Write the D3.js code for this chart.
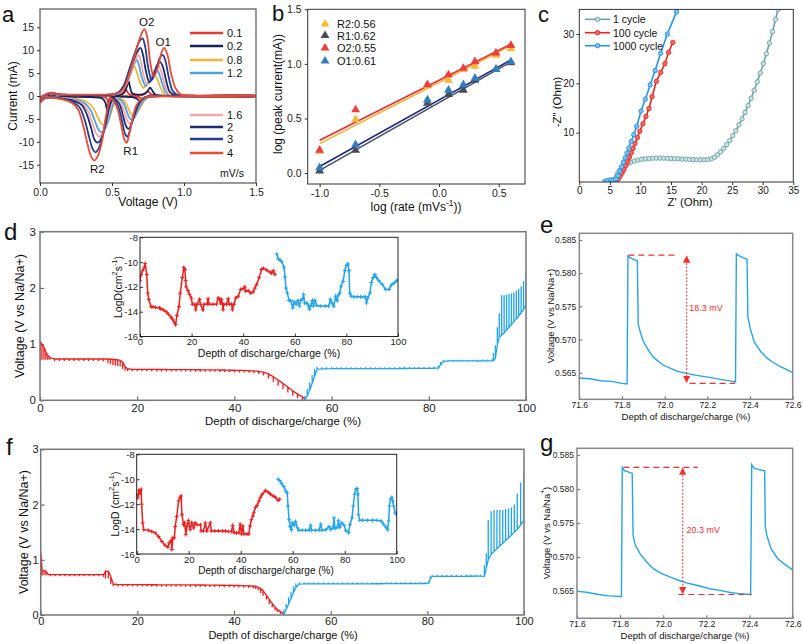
<!DOCTYPE html>
<html><head><meta charset="utf-8">
<script src="https://cdn.jsdelivr.net/npm/d3@7"></script>
<style>
body{margin:0;background:#fff;}
</style></head>
<body><svg id="chart" width="803" height="644" xmlns="http://www.w3.org/2000/svg"></svg>
<script>
// ================= DATA =================
// ---- (a) CV curves ----
const cvRates = ["0.1","0.2","0.8","1.2","1.6","2","3","4"];
const cvColors = ["#e8382d","#16215f","#f4b43e","#4aa3db","#f4a7a9","#1c2c76","#233f92","#ee4a33"];
const cvUpper = [
 [[0,-0.3],[0.03,0.03],[0.08,0.3],[0.12,0.15],[0.2,0.08],[0.4,0.08],[0.56,0.15],[0.58,0.6],[0.595,1.6],[0.608,0.8],[0.63,0.25],[0.7,0.15],[0.73,0.5],[0.75,1.1],[0.765,0.5],[0.8,0.1],[1.5,0.02]],
 [[0,-0.4],[0.03,0.05],[0.08,0.4],[0.12,0.2],[0.2,0.1],[0.4,0.1],[0.55,0.2],[0.585,0.8],[0.605,2.2],[0.615,3.3],[0.625,2.0],[0.64,0.6],[0.68,0.3],[0.72,0.4],[0.745,1.0],[0.765,1.8],[0.78,1.2],[0.8,0.3],[0.85,0.08],[1.5,0.02]],
 [[0,-0.6],[0.03,0.1],[0.08,0.5],[0.12,0.3],[0.2,0.18],[0.35,0.18],[0.5,0.22],[0.56,0.7],[0.6,2.5],[0.625,4.4],[0.642,5.9],[0.655,6.5],[0.67,5.4],[0.695,3.0],[0.72,1.8],[0.745,2.7],[0.775,4.3],[0.795,4.7],[0.812,3.9],[0.835,2.0],[0.86,0.5],[0.885,0.12],[1.05,0.03],[1.5,0.02]],
 [[0,-0.7],[0.03,0.1],[0.08,0.55],[0.12,0.3],[0.2,0.2],[0.35,0.2],[0.5,0.25],[0.56,0.8],[0.6,2.8],[0.63,5.0],[0.655,7.1],[0.672,7.9],[0.688,6.6],[0.71,3.8],[0.735,2.2],[0.76,3.2],[0.79,5.2],[0.81,5.75],[0.828,4.8],[0.85,2.6],[0.875,0.7],[0.9,0.15],[1.05,0.04],[1.5,0.02]],
 [[0,-0.7],[0.03,0.12],[0.08,0.6],[0.12,0.35],[0.2,0.22],[0.35,0.22],[0.5,0.28],[0.56,0.9],[0.6,3.0],[0.635,5.8],[0.665,8.1],[0.685,8.9],[0.7,7.5],[0.72,4.5],[0.745,2.5],[0.77,3.6],[0.8,5.9],[0.822,6.5],[0.84,5.5],[0.86,3.1],[0.885,0.9],[0.91,0.2],[1.05,0.05],[1.5,0.03]],
 [[0,-0.8],[0.03,0.15],[0.08,0.65],[0.12,0.4],[0.2,0.25],[0.35,0.25],[0.5,0.3],[0.55,0.8],[0.59,2.6],[0.63,6.0],[0.67,9.3],[0.698,10.5],[0.715,9.0],[0.735,5.5],[0.76,3.0],[0.785,4.3],[0.815,6.8],[0.835,7.4],[0.855,6.2],[0.875,3.5],[0.9,1.0],[0.93,0.25],[1.05,0.05],[1.5,0.03]],
 [[0,-0.8],[0.03,0.15],[0.08,0.7],[0.12,0.4],[0.2,0.25],[0.35,0.25],[0.48,0.3],[0.54,0.7],[0.58,2.2],[0.62,5.8],[0.66,9.5],[0.69,11.9],[0.712,12.6],[0.73,10.8],[0.75,6.5],[0.775,3.5],[0.8,5.0],[0.83,8.2],[0.852,9.0],[0.87,7.8],[0.895,4.0],[0.92,1.2],[0.95,0.3],[1.05,0.05],[1.5,0.03]],
 [[0,-0.9],[0.03,0.2],[0.08,0.75],[0.12,0.45],[0.2,0.3],[0.35,0.3],[0.48,0.35],[0.54,0.6],[0.58,1.6],[0.62,4.8],[0.66,9.0],[0.7,13.2],[0.725,14.6],[0.745,12.8],[0.765,7.5],[0.79,4.3],[0.82,6.5],[0.845,9.6],[0.863,10.5],[0.885,9.0],[0.91,5.0],[0.94,1.8],[0.97,0.5],[1.05,0.1],[1.5,0.05]]
];
const cvLower = [
 [[1.5,-0.02],[1.0,-0.03],[0.75,-0.05],[0.725,-0.4],[0.71,-1.05],[0.695,-0.4],[0.65,-0.15],[0.5,-0.15],[0.485,-0.5],[0.475,-1.5],[0.465,-0.6],[0.44,-0.2],[0.2,-0.15],[0.07,-0.1],[0.03,-0.2],[0.0,-0.5]],
 [[1.5,-0.02],[1.0,-0.04],[0.78,-0.05],[0.74,-0.2],[0.715,-0.8],[0.7,-1.6],[0.685,-0.9],[0.65,-0.3],[0.55,-0.2],[0.5,-0.4],[0.48,-1.2],[0.465,-3.0],[0.455,-1.5],[0.43,-0.5],[0.35,-0.25],[0.2,-0.2],[0.07,-0.15],[0.03,-0.3],[0.0,-0.7]],
 [[1.5,-0.02],[1.0,-0.05],[0.78,-0.07],[0.755,-0.25],[0.725,-1.0],[0.695,-2.6],[0.668,-4.0],[0.65,-4.4],[0.632,-4.0],[0.612,-2.6],[0.59,-1.2],[0.565,-0.6],[0.545,-0.4],[0.525,-1.0],[0.505,-2.5],[0.482,-4.7],[0.458,-6.0],[0.44,-6.3],[0.42,-5.8],[0.395,-4.2],[0.365,-2.4],[0.325,-1.3],[0.26,-0.7],[0.15,-0.4],[0.07,-0.22],[0.03,-0.35],[0.0,-0.9]],
 [[1.5,-0.02],[1.0,-0.06],[0.77,-0.08],[0.745,-0.3],[0.715,-1.2],[0.68,-3.1],[0.655,-4.8],[0.638,-5.2],[0.62,-4.7],[0.6,-3.1],[0.578,-1.4],[0.555,-0.7],[0.535,-0.45],[0.515,-1.2],[0.495,-3.0],[0.47,-5.8],[0.443,-7.5],[0.425,-7.9],[0.405,-7.3],[0.38,-5.3],[0.35,-3.0],[0.31,-1.6],[0.25,-0.8],[0.15,-0.45],[0.07,-0.25],[0.03,-0.4],[0.0,-1.0]],
 [[1.5,-0.03],[1.0,-0.07],[0.76,-0.1],[0.73,-0.35],[0.7,-1.4],[0.665,-3.6],[0.64,-5.5],[0.625,-6.0],[0.608,-5.5],[0.588,-3.7],[0.565,-1.7],[0.54,-0.8],[0.52,-0.5],[0.5,-1.4],[0.48,-3.5],[0.455,-6.6],[0.428,-8.5],[0.41,-8.9],[0.39,-8.2],[0.365,-6.0],[0.335,-3.4],[0.3,-1.8],[0.24,-0.9],[0.15,-0.5],[0.07,-0.28],[0.03,-0.45],[0.0,-1.1]],
 [[1.5,-0.03],[1.0,-0.08],[0.76,-0.1],[0.725,-0.4],[0.69,-1.6],[0.655,-4.2],[0.63,-6.5],[0.615,-7.2],[0.598,-6.6],[0.578,-4.5],[0.555,-2.0],[0.53,-0.9],[0.51,-0.55],[0.49,-1.6],[0.47,-4.0],[0.445,-7.6],[0.418,-9.7],[0.398,-10.2],[0.378,-9.5],[0.355,-7.0],[0.325,-4.0],[0.29,-2.0],[0.23,-1.0],[0.15,-0.55],[0.07,-0.3],[0.03,-0.5],[0.0,-1.2]],
 [[1.5,-0.03],[1.0,-0.08],[0.76,-0.1],[0.72,-0.4],[0.68,-1.8],[0.645,-5.0],[0.62,-8.0],[0.607,-8.9],[0.59,-8.2],[0.57,-5.5],[0.545,-2.5],[0.52,-1.0],[0.5,-0.6],[0.48,-1.8],[0.46,-4.5],[0.435,-8.8],[0.405,-11.6],[0.385,-12.3],[0.365,-11.5],[0.34,-8.8],[0.31,-5.2],[0.275,-2.5],[0.22,-1.2],[0.15,-0.6],[0.07,-0.3],[0.03,-0.55],[0.0,-1.3]],
 [[1.5,-0.05],[1.0,-0.1],[0.75,-0.15],[0.71,-0.5],[0.67,-2.0],[0.635,-6.0],[0.615,-9.0],[0.602,-10.2],[0.585,-9.4],[0.565,-6.5],[0.54,-3.0],[0.515,-1.2],[0.495,-0.6],[0.475,-1.9],[0.455,-5.0],[0.43,-10.0],[0.4,-13.2],[0.377,-14.1],[0.355,-13.2],[0.33,-10.5],[0.3,-6.5],[0.265,-3.0],[0.22,-1.5],[0.15,-0.7],[0.07,-0.35],[0.03,-0.6],[0.0,-1.4]]
];
const cvPeakNames = ["O2","O1","R1","R2"];
const cvPeakAt = [[0.741,16.1],[0.856,11.9],[0.63,-12.0],[0.398,-15.9]];
const aXTicks = [0,0.5,1.0,1.5];
const aYTicks = [-15,-10,-5,0,5,10,15];

// ---- (b) log(peak current) vs log(rate) ----
const bLogRate = [-1.0,-0.699,-0.097,0.079,0.204,0.301,0.477,0.602];
const bNames = ["R2","R1","O2","O1"];
const bSlopes = [0.56,0.62,0.55,0.61];
const bIntercepts = [0.83,0.645,0.85,0.67];
const bR2 = [0.20,0.49,0.80,0.85,0.95,0.98,1.08,1.14];
const bR1 = [0.02,0.21,0.64,0.72,0.76,0.85,0.95,1.01];
const bO2 = [0.21,0.58,0.81,0.90,0.96,1.02,1.10,1.17];
const bO1 = [0.05,0.26,0.67,0.76,0.81,0.87,0.95,1.02];
const bPtColors = ["#f7b733","#4b4b58","#f23c3c","#2f7fc1"];
const bLineColors = ["#f5b030","#4a5068","#f0282a","#1a2a80"];
const bXTicks = [-1.0,-0.5,0.0,0.5];
const bYTicks = [0.0,0.5,1.0,1.5];

// ---- (c) Nyquist ----
const cNames = ["1 cycle","100 cycle","1000 cycle"];
const cColors = ["#6aa3a9","#e8251f","#2196e8"];
const cFills = ["#cfe2e4","#f36a66","#7cc0f2"];
const c1 = [[4.3,0.1],[4.6,0.25],[5,0.35],[5.5,0.45],[5.9,0.5],[6.1,1.2],[6.3,1.8],[6.6,2.4],[7,2.9],[7.4,3.3],[7.9,3.7],[8.4,4.0],[9,4.25],[9.6,4.45],[10.2,4.6],[10.8,4.7],[11.4,4.78],[12,4.82],[12.6,4.85],[13.2,4.85],[13.8,4.83],[14.4,4.8],[15,4.77],[15.6,4.73],[16.2,4.7],[16.8,4.66],[17.4,4.62],[18,4.58],[18.6,4.55],[19.2,4.53],[19.8,4.52],[20.4,4.52],[21,4.55],[21.6,4.7],[22.1,5.0],[22.6,5.5],[23.1,6.1],[23.6,6.8],[24.1,7.6],[24.6,8.4],[25.1,9.4],[25.6,10.4],[26.1,11.6],[26.6,12.8],[27.1,14.1],[27.6,15.5],[28.1,17.0],[28.6,18.6],[29.1,20.3],[29.6,22.1],[30.1,24.0],[30.6,26.0],[31.1,28.2],[31.6,30.5],[32.1,33.0],[32.5,35]];
const c100 = [[5.8,0.2],[6.1,0.35],[6.4,0.7],[6.7,1.2],[7.0,1.8],[7.3,2.5],[7.6,3.3],[7.9,4.1],[8.2,5.0],[8.5,5.9],[8.8,6.8],[9.1,7.8],[9.5,9.0],[9.9,10.3],[10.4,11.8],[10.9,13.3],[11.4,14.9],[11.9,17.3],[12.6,20.4],[13.3,22.2],[14.0,24.0],[14.6,26.3],[15.3,28.3]];
const c1000 = [[4.2,0.1],[4.6,0.3],[5.1,0.4],[5.6,0.45],[6.0,0.6],[6.3,1.3],[6.6,2.2],[6.9,3.1],[7.2,4.0],[7.5,4.9],[7.8,5.9],[8.1,6.9],[8.5,8.2],[8.9,9.6],[9.4,11.3],[10.1,14.4],[10.8,16.8],[11.6,19.7],[12.4,22.6],[13.3,26.1],[14.4,30.0],[15.9,34.5]];
const cXTicks = [0,5,10,15,20,25,30,35];
const cYTicks = [10,20,30];

// ---- (d) GITT: [depth %, rest voltage, pulse voltage] ----
const dDischarge = [[0,1.05,0.70],[0.4,1.00,0.72],[0.8,0.95,0.72],[1.2,0.86,0.72],[1.6,0.80,0.72],[2,0.76,0.72],
 [3,0.735,0.70],[4,0.735,0.70],[5,0.735,0.70],[6,0.735,0.70],[7,0.735,0.70],[8,0.735,0.70],[9,0.735,0.70],[10,0.735,0.70],[11,0.735,0.70],[12,0.735,0.70],[13,0.735,0.69],
 [14,0.735,0.66],[14.5,0.73,0.64],[15,0.73,0.63],[15.5,0.725,0.62],[16,0.72,0.61],[16.5,0.71,0.60],[17,0.68,0.56],[17.5,0.60,0.53],[18,0.56,0.52],
 [19,0.55,0.515],[20,0.55,0.515],[21,0.55,0.515],[22,0.55,0.515],[23,0.549,0.514],[24,0.549,0.514],[25,0.548,0.513],[26,0.548,0.513],[27,0.547,0.512],[28,0.547,0.512],[29,0.546,0.511],[30,0.546,0.511],[31,0.545,0.51],[32,0.545,0.51],[33,0.544,0.509],[34,0.543,0.508],[35,0.542,0.507],[36,0.541,0.506],[37,0.54,0.505],[38,0.539,0.503],[39,0.537,0.501],[40,0.535,0.499],[41,0.533,0.496],[42,0.531,0.493],[43,0.528,0.488],[44,0.524,0.482],
 [45,0.515,0.47],[46,0.50,0.44],[47,0.47,0.39],[48,0.42,0.33],[49,0.36,0.26],[50,0.30,0.20],[51,0.235,0.14],[52,0.17,0.085],[53,0.11,0.035],[54,0.06,0.0],[54.5,0.03,0.0]];
const dCharge = [[54.5,0.0,0.08],[55,0.08,0.20],[55.5,0.18,0.32],[56,0.30,0.45],[56.5,0.42,0.56],[57,0.55,0.595],
 [58,0.56,0.59],[59,0.56,0.59],[60,0.562,0.59],[61,0.562,0.59],[62,0.562,0.59],[63,0.562,0.59],[64,0.563,0.59],[65,0.563,0.59],[66,0.563,0.59],[67,0.564,0.59],[68,0.564,0.59],[69,0.564,0.59],[70,0.564,0.59],[71,0.565,0.59],[72,0.565,0.59],[73,0.565,0.59],[74,0.566,0.592],[75,0.566,0.592],[76,0.567,0.592],[77,0.567,0.592],[78,0.568,0.593],[79,0.568,0.593],[80,0.569,0.594],[81,0.57,0.595],
 [82,0.575,0.62],[82.4,0.63,0.68],[83,0.69,0.715],[84,0.70,0.72],[85,0.70,0.72],[86,0.70,0.72],[87,0.70,0.72],[88,0.70,0.72],[89,0.70,0.722],[90,0.70,0.722],[91,0.702,0.724],[92,0.703,0.725],[93,0.705,0.73],
 [93.3,0.71,0.84],[93.7,0.75,0.98],[94.1,0.98,1.30],[94.5,1.12,1.55],[95,1.16,1.87],[95.5,1.20,1.87],[96,1.25,1.88],[96.5,1.30,1.89],[97,1.35,1.90],[97.5,1.40,1.92],[98,1.45,1.95],[98.5,1.50,1.98],[99,1.56,2.03],[99.5,1.62,2.12],[100,1.70,2.26]];
const dInsetRed = [[0,-11.5],[0.4,-11.0],[1.0,-10.7],[1.7,-10.4],[2.0,-10.1],[2.6,-11.0],[3.0,-12.5],[3.4,-13.0],[4.3,-13.6],[5,-13.62],[6,-13.65],[7.5,-13.7],[8,-13.75],[9,-13.85],[10.1,-14.0],[11,-14.2],[12.1,-14.45],[12.6,-14.6],[13.4,-14.9],[13.8,-15.05],[14.3,-14.3],[15.1,-13.6],[15.6,-12.5],[16.4,-11.25],[17.0,-10.45],[17.4,-10.6],[17.7,-11.5],[17.9,-12.0],[18.6,-12.3],[19.2,-12.6],[19.9,-12.9],[20.3,-13.4],[21.2,-13.4],[21.6,-13.85],[22.1,-13.4],[23.1,-13.0],[23.4,-13.4],[24.4,-13.85],[24.8,-13.4],[26.0,-13.4],[26.4,-12.95],[26.8,-13.4],[28.3,-13.4],[29.6,-13.4],[30.3,-12.9],[30.7,-12.95],[31.2,-13.3],[31.6,-13.0],[32.0,-13.4],[32.2,-13.85],[32.5,-13.4],[33.5,-13.4],[34.2,-12.95],[34.6,-13.4],[35.5,-13.4],[35.8,-13.85],[36.4,-13.4],[37.1,-12.9],[38.1,-12.75],[39.0,-12.2],[40.0,-12.15],[40.6,-12.0],[41.0,-12.35],[41.9,-12.3],[42.9,-12.5],[43.9,-12.4],[44.5,-12.1],[45.2,-11.8],[46.2,-11.25],[47.1,-10.6],[47.8,-10.5],[49.1,-10.65],[50.4,-10.8],[51.0,-10.9],[51.7,-10.7],[52.3,-11.0]];
const dInsetBlue = [[53.0,-9.35],[53.6,-9.75],[54.3,-9.85],[54.9,-9.95],[55.8,-10.4],[56.2,-11.2],[56.6,-12.1],[57.1,-12.5],[57.8,-13.1],[58.4,-13.1],[59.2,-13.7],[59.7,-13.2],[60.5,-13.4],[61.2,-13.1],[61.8,-13.55],[62.3,-13.1],[63.1,-12.95],[63.4,-12.6],[63.8,-13.3],[64.7,-13.3],[65.3,-13.55],[65.7,-13.8],[66.2,-13.5],[66.8,-13.1],[67.3,-13.55],[67.8,-13.1],[68.6,-13.5],[69.9,-13.55],[71.8,-13.55],[73.1,-13.55],[73.8,-13.0],[74.4,-13.3],[75.1,-13.55],[75.8,-12.75],[76.4,-13.1],[76.9,-12.65],[77.4,-12.5],[77.9,-11.95],[78.7,-11.55],[79.4,-10.7],[80.0,-10.25],[80.6,-10.15],[81.0,-10.7],[81.3,-12.5],[81.9,-12.75],[82.9,-12.8],[84.2,-12.8],[85.5,-12.8],[86.5,-12.8],[87.4,-12.8],[87.8,-13.3],[88.3,-12.9],[89.1,-12.5],[89.7,-11.65],[90.4,-11.25],[91.0,-11.0],[91.7,-11.25],[92.6,-11.5],[93.9,-11.8],[95.2,-12.2],[96.5,-12.2],[97.4,-11.85],[98.4,-11.7],[99.5,-11.5],[100,-11.45]];

// ---- (f) GITT ----
const fDischarge = [[0,1.15,0.70],[0.3,0.82,0.72],[0.7,0.80,0.72],[1.1,0.79,0.72],[1.5,0.74,0.72],[2,0.735,0.70],
 [3,0.73,0.70],[4,0.73,0.70],[5,0.73,0.70],[6,0.73,0.70],[7,0.73,0.70],[8,0.73,0.70],[9,0.73,0.70],[10,0.73,0.70],[11,0.73,0.70],[12,0.73,0.70],[13,0.73,0.69],
 [13.4,0.79,0.66],[14,0.79,0.66],[14.5,0.70,0.56],[15,0.56,0.52],
 [16,0.55,0.515],[17,0.55,0.515],[18,0.55,0.515],[19,0.55,0.515],[20,0.55,0.515],[21,0.549,0.514],[22,0.549,0.514],[23,0.548,0.513],[24,0.548,0.513],[25,0.547,0.512],[26,0.547,0.512],[27,0.546,0.511],[28,0.546,0.511],[29,0.545,0.51],[30,0.545,0.51],[31,0.544,0.509],[32,0.544,0.509],[33,0.543,0.508],[34,0.543,0.508],[35,0.542,0.507],[36,0.541,0.506],[37,0.54,0.505],[38,0.539,0.504],[39,0.538,0.502],[40,0.536,0.5],[41,0.534,0.498],[42,0.532,0.495],[43,0.529,0.49],[44,0.525,0.482],
 [44.5,0.52,0.47],[45,0.50,0.45],[45.5,0.48,0.40],[46,0.44,0.35],[46.7,0.36,0.28],[47.3,0.28,0.20],[47.9,0.21,0.14],[48.5,0.14,0.08],[49,0.10,0.05],[49.6,0.06,0.02],[50.2,0.03,0.0]];
const fCharge = [[50.3,0.0,0.10],[50.8,0.10,0.20],[51.3,0.20,0.32],[51.8,0.30,0.42],[52.3,0.40,0.52],[52.8,0.50,0.575],[53.5,0.56,0.59],
 [54.5,0.562,0.59],[55.5,0.562,0.59],[56.5,0.562,0.59],[57.5,0.563,0.59],[58.5,0.563,0.59],[59.5,0.563,0.59],[60.5,0.564,0.59],[61.5,0.564,0.59],[62.5,0.564,0.59],[63.5,0.564,0.59],[64.5,0.565,0.59],[65.5,0.565,0.59],[66.5,0.565,0.59],[67.5,0.565,0.59],[68.5,0.566,0.59],[69.5,0.566,0.59],[70.5,0.566,0.59],[71.5,0.567,0.592],[72.5,0.567,0.592],[73.5,0.567,0.592],[74.5,0.568,0.592],[75.5,0.568,0.593],[76.5,0.569,0.593],[77.5,0.569,0.594],[78.5,0.57,0.594],[79.5,0.57,0.595],
 [80.3,0.575,0.62],[80.6,0.65,0.70],[81,0.70,0.725],[82,0.70,0.725],[83,0.70,0.725],[84,0.70,0.725],[85,0.70,0.725],[86,0.70,0.725],[87,0.70,0.725],[88,0.702,0.727],[89,0.702,0.727],[90,0.704,0.73],[91,0.705,0.73],
 [91.8,0.70,0.90],[92.2,0.85,1.12],[92.6,1.0,1.72],[93.2,1.10,1.88],[93.8,1.15,1.90],[94.4,1.20,1.90],[95,1.25,1.90],[95.6,1.30,1.90],[96.2,1.35,1.92],[96.8,1.40,1.93],[97.4,1.45,1.95],[98,1.50,2.00],[98.6,1.55,2.20],[99.3,1.63,2.40],[100,1.72,2.57]];
const fInsetRed = [[0,-11.2],[0.4,-11.5],[0.9,-10.9],[1.3,-11.1],[1.7,-10.8],[1.9,-12.0],[2.3,-13.5],[2.7,-14.05],[4.5,-14.1],[5.8,-14.2],[7.1,-14.3],[8.4,-14.6],[9.7,-15.0],[10.9,-15.3],[12.0,-15.45],[12.5,-15.1],[13.3,-14.9],[13.5,-15.65],[13.9,-14.7],[14.5,-14.7],[14.8,-13.8],[15.4,-13.0],[16.1,-11.75],[16.7,-11.45],[17.1,-11.35],[17.4,-12.85],[18.0,-13.65],[18.4,-13.5],[18.9,-14.45],[19.3,-13.8],[19.9,-13.3],[20.6,-14.05],[21.2,-13.5],[21.9,-13.9],[22.5,-13.5],[23.2,-13.65],[24.5,-13.65],[24.8,-14.15],[25.7,-14.15],[26.4,-13.5],[27.0,-14.15],[28.3,-13.5],[28.7,-14.15],[30.0,-14.15],[31.5,-14.15],[33.0,-14.15],[34.1,-14.15],[35.2,-14.2],[36.4,-14.2],[36.9,-13.7],[37.5,-14.3],[38.4,-14.3],[39.3,-14.3],[39.8,-13.6],[40.3,-14.4],[40.8,-13.75],[41.3,-14.4],[42.5,-14.4],[43.1,-14.4],[43.6,-13.75],[44.1,-13.25],[44.7,-12.95],[45.0,-12.7],[45.7,-12.25],[46.3,-12.1],[47.0,-11.75],[47.6,-11.45],[48.3,-11.2],[49.5,-10.9],[50.6,-11.05],[51.5,-11.2],[52.5,-11.35],[53.4,-11.45],[54.4,-11.7],[55.0,-11.6]];
const fInsetBlue = [[54.4,-10.0],[55.0,-10.1],[55.7,-10.35],[56.6,-10.6],[57.3,-10.95],[57.9,-11.1],[58.2,-12.15],[58.6,-13.25],[59.0,-13.8],[59.5,-14.05],[59.8,-13.5],[60.5,-13.7],[61.1,-13.4],[61.8,-13.9],[62.4,-14.1],[63.7,-14.1],[65.0,-14.1],[66.3,-14.1],[66.9,-13.7],[67.3,-14.1],[68.7,-14.1],[70.1,-14.1],[70.8,-13.6],[71.2,-14.1],[72.7,-14.05],[74.0,-13.8],[74.6,-14.05],[75.5,-13.9],[75.9,-13.1],[76.3,-13.95],[77.2,-13.85],[77.6,-13.3],[78.1,-13.85],[78.9,-13.5],[79.8,-13.7],[80.4,-14.1],[81.5,-14.3],[82.0,-13.65],[82.8,-13.1],[83.3,-12.15],[83.8,-11.2],[84.3,-10.8],[84.8,-10.75],[85.1,-11.2],[85.3,-12.85],[85.8,-13.3],[86.9,-13.3],[88.8,-13.3],[90.7,-13.3],[92.4,-13.3],[94.0,-13.35],[94.9,-13.6],[95.9,-13.85],[96.5,-14.05],[96.9,-13.35],[97.2,-12.15],[97.6,-11.6],[98.1,-11.45],[98.5,-11.75],[98.8,-12.15],[99.4,-12.7],[100,-12.85]];
const depthTicks = [0,20,40,60,80,100];
const voltTicks = [0,1,2,3];
const logDTicks = [-16,-14,-12,-10,-8];

// ---- (e), (g) zoomed GITT pulses ----
const eCurve = [[71.6,0.5642],[71.65,0.5641],[71.7,0.5638],[71.75,0.5637],[71.8,0.5634],[71.824,0.5633],[71.828,0.5826],[71.84,0.5823],[71.86,0.5820],[71.872,0.5819],[71.876,0.5724],[71.885,0.5712],[71.9,0.5697],[71.92,0.5686],[71.94,0.5676],[71.963,0.5669],[71.99,0.5662],[72.025,0.5657],[72.06,0.5652],[72.1,0.5649],[72.15,0.5646],[72.21,0.5643],[72.26,0.5640],[72.32,0.5637],[72.332,0.5636],[72.336,0.5829],[72.35,0.5826],[72.37,0.5823],[72.386,0.5821],[72.39,0.5734],[72.4,0.5718],[72.42,0.5696],[72.45,0.5682],[72.48,0.5672],[72.51,0.5665],[72.545,0.5659],[72.57,0.5655],[72.6,0.5650]];
const gCurve = [[71.6,0.5650],[71.65,0.5648],[71.7,0.5645],[71.75,0.5643],[71.8,0.5642],[71.806,0.5642],[71.81,0.5832],[71.82,0.5827],[71.84,0.5825],[71.856,0.5823],[71.86,0.5732],[71.87,0.5718],[71.892,0.5705],[71.92,0.5694],[71.954,0.5683],[71.99,0.5676],[72.03,0.5671],[72.07,0.5666],[72.108,0.5662],[72.15,0.5659],[72.186,0.5656],[72.22,0.5653],[72.263,0.5651],[72.31,0.5648],[72.36,0.5646],[72.4,0.5645],[72.405,0.5645],[72.41,0.5836],[72.42,0.5831],[72.45,0.5828],[72.47,0.5827],[72.473,0.5745],[72.48,0.5732],[72.5,0.5712],[72.53,0.5698],[72.56,0.5690],[72.6,0.5681]];
// annotation: [top x0, top x1, top V, arrow x, bottom x0, bottom x1, bottom V, label x, label V]
const eNote = [71.83,72.05,0.5827,72.103,72.117,72.33,0.5634,72.115,0.5748];
const gNote = [71.815,72.16,0.5832,72.09,72.07,72.41,0.5645,72.108,0.5740];
const eLabel = "18.3 mV", gLabel = "20.3 mV";
const zXTicks = [71.6,71.8,72.0,72.2,72.4,72.6];
const zYTicks = [0.565,0.570,0.575,0.580,0.585];

// ================= DRAW =================
const FONT = '"Liberation Sans", Arial, Helvetica, sans-serif';
const svg = d3.select("#chart");
const defs = svg.append("defs");
let clipN = 0;

function label(g, x, y, parts, o = {}) {
  const fs = o.fs || 11;
  const t = g.append("text").attr("x", x).attr("y", y).attr("font-size", fs)
    .attr("fill", o.fill || "#111").attr("text-anchor", o.anchor || "start")
    .attr("font-family", FONT);
  if (o.rot) t.attr("transform", `rotate(-90,${x},${y})`).attr("dominant-baseline", "central");
  if (o.mid) t.attr("dominant-baseline", "central");
  if (typeof parts === "string") parts = [[parts, 0]];
  let sup = false;
  parts.forEach(([s, p]) => {
    const ts = t.append("tspan").text(s);
    if (p) ts.attr("font-size", fs * 0.7);
    if (p && !sup) ts.attr("dy", -fs * 0.4);
    if (!p && sup) ts.attr("dy", fs * 0.4);
    sup = !!p;
  });
  return t;
}

function frame(o) {
  const x = d3.scaleLinear().domain(o.xd).range([o.l, o.r]);
  const y = d3.scaleLinear().domain(o.yd).range([o.b, o.t]);
  const g = svg.append("g");
  if (o.bg) g.append("rect").attr("x", o.l).attr("y", o.t).attr("width", o.r - o.l).attr("height", o.b - o.t).attr("fill", "#fff");
  const id = "clip" + (clipN++);
  defs.append("clipPath").attr("id", id).append("rect").attr("x", o.l).attr("y", o.t).attr("width", o.r - o.l).attr("height", o.b - o.t);
  const xa = d3.axisBottom(x).tickValues(o.xt).tickFormat(o.xf || (d => d)).tickSizeInner(o.ts).tickSizeOuter(0).tickPadding(o.pad);
  const ya = d3.axisLeft(y).tickValues(o.yt).tickFormat(o.yf || (d => d)).tickSizeInner(o.ts).tickSizeOuter(0).tickPadding(o.pad);
  const gx = g.append("g").attr("transform", `translate(0,${o.b})`).call(xa);
  const gy = g.append("g").attr("transform", `translate(${o.l},0)`).call(ya);
  [gx, gy].forEach(a => {
    a.select(".domain").remove();
    a.selectAll("line").attr("stroke", o.tc || "#333");
    a.selectAll("text").attr("font-size", o.fs).attr("fill", "#222").attr("font-family", FONT);
  });
  const plot = g.append("g").attr("clip-path", `url(#${id})`);
  g.append("rect").attr("x", o.l).attr("y", o.t).attr("width", o.r - o.l).attr("height", o.b - o.t)
    .attr("fill", "none").attr("stroke", o.fc || "#333").attr("stroke-width", o.fw || 1);
  return { x, y, g, plot };
}

const fmt1 = d => d.toFixed(1), fmt3 = d => d.toFixed(3);

// ---------- (a) ----------
const A = frame({ l: 40, r: 256, t: 9, b: 183, xd: [0, 1.5], yd: [-19, 19], xt: aXTicks, yt: aYTicks, xf: fmt1, ts: 3, pad: 3, fs: 10.5 });
const cvLine = d3.line().x(d => A.x(d[0])).y(d => A.y(d[1])).curve(d3.curveCatmullRomClosed.alpha(0.5));
cvRates.forEach((r, i) => {
  A.plot.append("path").attr("d", cvLine(cvUpper[i].concat(cvLower[i])))
    .attr("fill", "none").attr("stroke", cvColors[i]).attr("stroke-width", 1.8);
});
cvPeakNames.forEach((n, i) => label(svg, A.x(cvPeakAt[i][0]), A.y(cvPeakAt[i][1]), n, { fs: 11.5, anchor: "middle", mid: true }));
const legY = [33, 46, 60, 73, 115, 127, 139, 153];
cvRates.forEach((r, i) => {
  svg.append("line").attr("x1", 190).attr("x2", 223).attr("y1", legY[i]).attr("y2", legY[i]).attr("stroke", cvColors[i]).attr("stroke-width", 2.5);
  label(svg, 227, legY[i], r, { fs: 11, mid: true });
});
label(svg, 220, 173, "mV/s", { fs: 10.5, mid: true });
label(svg, 148, 206, "Voltage (V)", { fs: 12, anchor: "middle" });
label(svg, 13, 96, "Current (mA)", { fs: 12, anchor: "middle", rot: true });
label(svg, 2, 22, "a", { fs: 22 });

// ---------- (b) ----------
const B = frame({ l: 307.7, r: 525, t: 9.3, b: 184, xd: [-1.1, 0.72], yd: [-0.1, 1.5], xt: bXTicks, yt: bYTicks, xf: fmt1, yf: fmt1, ts: 3, pad: 3, fs: 10.5 });
const bSeries = [bR2, bR1, bO2, bO1];
const fitOrder = [0, 2, 1, 3];
fitOrder.forEach(i => {
  const ends = [bLogRate[0], bLogRate[bLogRate.length - 1]];
  B.plot.append("line").attr("x1", B.x(ends[0])).attr("y1", B.y(bIntercepts[i] + bSlopes[i] * ends[0]))
    .attr("x2", B.x(ends[1])).attr("y2", B.y(bIntercepts[i] + bSlopes[i] * ends[1]))
    .attr("stroke", bLineColors[i]).attr("stroke-width", 1.6);
});
const tri = d3.symbol(d3.symbolTriangle).size(34);
bSeries.forEach((s, i) => {
  s.forEach((v, j) => B.plot.append("path").attr("d", tri).attr("transform", `translate(${B.x(bLogRate[j])},${B.y(v)})`).attr("fill", bPtColors[i]));
});
const bLegY = [24, 35.5, 48, 61];
bNames.forEach((n, i) => {
  svg.append("path").attr("d", tri).attr("transform", `translate(325,${bLegY[i]})`).attr("fill", bPtColors[i]);
  label(svg, 337, bLegY[i], n + ":" + bSlopes[i].toFixed(2), { fs: 11, mid: true });
});
label(svg, 416, 211, [["log (rate (mVs", 0], ["-1", 1], ["))", 0]], { fs: 12, anchor: "middle" });
label(svg, 278, 94, "log (peak current(mA))", { fs: 12, anchor: "middle", rot: true });
label(svg, 272, 21, "b", { fs: 22 });

// ---------- (c) ----------
const C = frame({ l: 579.3, r: 793.3, t: 9.4, b: 182, xd: [0, 35], yd: [0, 35], xt: cXTicks, yt: cYTicks, ts: 3, pad: 2, fs: 10 });
const cLine = d3.line().x(d => C.x(d[0])).y(d => C.y(d[1]));
[c1, c100, c1000].forEach((s, i) => {
  C.plot.append("path").attr("d", cLine(s)).attr("fill", "none").attr("stroke", cColors[i]).attr("stroke-width", 1.6);
  s.forEach(p => C.plot.append("circle").attr("cx", C.x(p[0])).attr("cy", C.y(p[1])).attr("r", 2.2)
    .attr("fill", cFills[i]).attr("stroke", cColors[i]).attr("stroke-width", 0.9));
});
const cLegY = [19.3, 32.7, 45.7];
cNames.forEach((n, i) => {
  svg.append("line").attr("x1", 585).attr("x2", 610).attr("y1", cLegY[i]).attr("y2", cLegY[i]).attr("stroke", cColors[i]).attr("stroke-width", 1.6);
  svg.append("circle").attr("cx", 597.5).attr("cy", cLegY[i]).attr("r", 2.2).attr("fill", cFills[i]).attr("stroke", cColors[i]);
  label(svg, 613, cLegY[i], n, { fs: 10.5, mid: true });
});
label(svg, 690, 206, "Z' (Ohm)", { fs: 11.5, anchor: "middle" });
label(svg, 557, 102, "-Z\" (Ohm)", { fs: 11.5, anchor: "middle", rot: true });
label(svg, 538, 22, "c", { fs: 22 });

// ---------- GITT helpers ----------
const RED = "#f21c1c", BLUE = "#1ea4f0";
function gitt(P, data, color) {
  const pts = data.flatMap(d => [[d[0], d[1]], [d[0], d[2]], [d[0], d[1]]]);
  P.plot.append("path").attr("d", d3.line().x(d => P.x(d[0])).y(d => P.y(d[1]))(pts))
    .attr("fill", "none").attr("stroke", color).attr("stroke-width", 1.3);
}
function insetLine(P, data, color) {
  P.plot.append("path").attr("d", d3.line().x(d => P.x(d[0])).y(d => P.y(d[1]))(data))
    .attr("fill", "none").attr("stroke", color).attr("stroke-width", 1.5);
  data.forEach(d => P.plot.append("path").attr("d", "M-2,0H2M0,-2V2")
    .attr("transform", `translate(${P.x(d[0])},${P.y(d[1])})`).attr("stroke", color).attr("stroke-width", 1));
}

// ---------- (d) ----------
const D = frame({ l: 40, r: 526, t: 231.7, b: 400.3, xd: [0, 100], yd: [0, 3], xt: depthTicks, yt: voltTicks, ts: -4, pad: 4, fs: 11.5, fc: "#777", tc: "#555", fw: 1.5 });
gitt(D, dDischarge, RED);
gitt(D, dCharge, BLUE);
label(svg, 283, 425, "Depth of discharge/charge (%)", { fs: 11.5, anchor: "middle" });
label(svg, 20, 316, "Voltage (V vs Na/Na+)", { fs: 12.5, anchor: "middle", rot: true });
label(svg, 4, 240, "d", { fs: 24 });
const DI = frame({ l: 140, r: 398, t: 237.3, b: 336.5, xd: [0, 100], yd: [-16, -8], xt: depthTicks, yt: logDTicks, ts: -3, pad: 2, fs: 9.5, bg: true, fc: "#222" });
insetLine(DI, dInsetRed, RED);
insetLine(DI, dInsetBlue, BLUE);
label(svg, 269, 357, "Depth of discharge/charge (%)", { fs: 10.5, anchor: "middle" });
label(svg, 118, 287, [["LogD(cm", 0], ["2", 1], ["s", 0], ["-1", 1], [")", 0]], { fs: 10.5, anchor: "middle", rot: true });

// ---------- (f) ----------
const F = frame({ l: 40.7, r: 524, t: 449.3, b: 615, xd: [0, 100], yd: [0, 3], xt: depthTicks, yt: voltTicks, ts: -4, pad: 2, fs: 11, fc: "#777", tc: "#555", fw: 1.5 });
gitt(F, fDischarge, RED);
gitt(F, fCharge, BLUE);
label(svg, 283, 639, "Depth of discharge/charge (%)", { fs: 11, anchor: "middle" });
label(svg, 24, 532, "Voltage (V vs Na/Na+)", { fs: 12.5, anchor: "middle", rot: true });
label(svg, 6, 455, "f", { fs: 24 });
const FI = frame({ l: 136.7, r: 396.7, t: 454.3, b: 554, xd: [0, 100], yd: [-16, -8], xt: depthTicks, yt: logDTicks, ts: -3, pad: 2, fs: 9.5, bg: true, fc: "#222" });
insetLine(FI, fInsetRed, RED);
insetLine(FI, fInsetBlue, BLUE);
label(svg, 266, 574, "Depth of discharge/charge (%)", { fs: 10, anchor: "middle" });
label(svg, 115, 504, [["LogD (cm", 0], ["2", 1], ["s", 0], ["-1", 1], [")", 0]], { fs: 10.5, anchor: "middle", rot: true });

// ---------- (e), (g) ----------
defs.append("marker").attr("id", "arr").attr("viewBox", "0 0 10 10").attr("refX", 9).attr("refY", 5)
  .attr("markerWidth", 6).attr("markerHeight", 6).attr("orient", "auto-start-reverse")
  .append("path").attr("d", "M0,0L10,5L0,10z").attr("fill", "#ff2a2a");
function zoomPanel(o, curve, note, txt) {
  const P = frame({ l: o.l, r: o.r, t: o.t, b: o.b, xd: [71.6, 72.6], yd: [0.561, 0.586], xt: zXTicks, yt: zYTicks, xf: fmt1, yf: fmt3, ts: -3, pad: 3, fs: 8.5, fc: "#888", tc: "#666", fw: 1.5 });
  P.plot.append("path").attr("d", d3.line().x(d => P.x(d[0])).y(d => P.y(d[1]))(curve))
    .attr("fill", "none").attr("stroke", "#25a5ef").attr("stroke-width", 1.4);
  const red = "#ff2a2a";
  P.g.append("line").attr("x1", P.x(note[0])).attr("x2", P.x(note[1])).attr("y1", P.y(note[2])).attr("y2", P.y(note[2]))
    .attr("stroke", red).attr("stroke-width", 1.2).attr("stroke-dasharray", "6,4");
  P.g.append("line").attr("x1", P.x(note[4])).attr("x2", P.x(note[5])).attr("y1", P.y(note[6])).attr("y2", P.y(note[6]))
    .attr("stroke", red).attr("stroke-width", 1.2).attr("stroke-dasharray", "6,4");
  P.g.append("line").attr("x1", P.x(note[3])).attr("x2", P.x(note[3])).attr("y1", P.y(note[2]) + 1).attr("y2", P.y(note[6]) - 1)
    .attr("stroke", red).attr("stroke-width", 1.2).attr("stroke-dasharray", "1.5,2")
    .attr("marker-start", "url(#arr)").attr("marker-end", "url(#arr)");
  label(P.g, P.x(note[7]), P.y(note[8]), txt, { fs: 9, fill: red, mid: true });
  return P;
}
zoomPanel({ l: 579.3, r: 792.7, t: 233.3, b: 399.3 }, eCurve, eNote, eLabel);
label(svg, 686, 420, "Depth of discharge/charge (%)", { fs: 9.5, anchor: "middle" });
label(svg, 550, 316, "Voltage (V vs Na/Na+)", { fs: 9.5, anchor: "middle", rot: true });
label(svg, 540, 233, "e", { fs: 24 });
zoomPanel({ l: 577, r: 792.7, t: 448.3, b: 618.3 }, gCurve, gNote, gLabel);
label(svg, 685, 639, "Depth of discharge/charge (%)", { fs: 9.5, anchor: "middle" });
label(svg, 546, 533, [["Voltage (V vs Na/Na", 0], ["+", 1], [")", 0]], { fs: 9.5, anchor: "middle", rot: true });
label(svg, 540, 451, "g", { fs: 24 });
</script>
</body></html>
